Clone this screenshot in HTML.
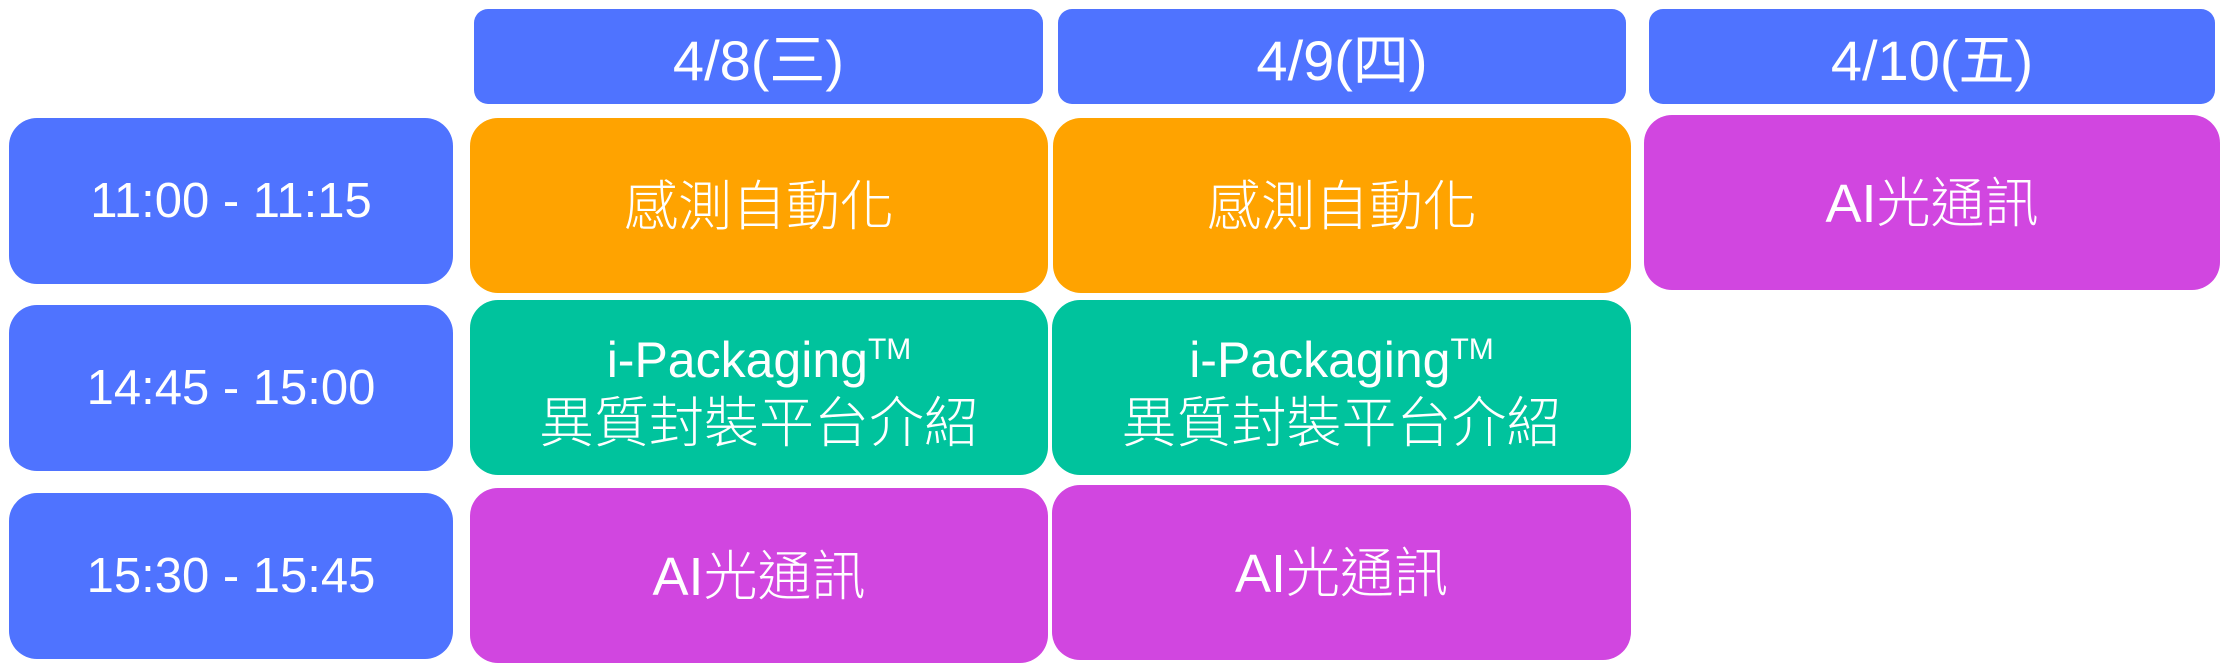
<!DOCTYPE html>
<html><head><meta charset="utf-8"><style>
html,body{margin:0;padding:0;background:#fff;width:2226px;height:668px;overflow:hidden}
.b{position:absolute;display:flex;align-items:center;justify-content:center;flex-direction:column;color:#fff;font-family:"Liberation Sans","Noto Sans CJK TC",sans-serif;text-align:center;border-radius:28px;box-sizing:border-box}
.h{background:#4f73ff;border-radius:14px;font-size:56px}
.t{background:#4f73ff;font-size:49px}
.o{background:#ffa300;font-size:54px;font-weight:300;padding-bottom:8px}
.g{background:#00c39d;font-weight:300}
.p{background:#d146e0;font-size:54px;font-weight:300;padding-bottom:8px}
.g .l1{font-size:50px;line-height:60px}
.g .l2{font-size:55px;line-height:66px}
sup{font-size:30px;vertical-align:18px}
</style></head><body>
<div class="b h" style="left:474px;top:9px;width:569px;height:95px">4/8(三)</div>
<div class="b h" style="left:1058px;top:9px;width:568px;height:95px">4/9(四)</div>
<div class="b h" style="left:1649px;top:9px;width:566px;height:95px">4/10(五)</div>

<div class="b t" style="left:9px;top:118px;width:444px;height:166px">11:00 - 11:15</div>
<div class="b t" style="left:9px;top:305px;width:444px;height:166px">14:45 - 15:00</div>
<div class="b t" style="left:9px;top:493px;width:444px;height:166px">15:30 - 15:45</div>

<div class="b o" style="left:470px;top:118px;width:578px;height:175px">感測自動化</div>
<div class="b o" style="left:1053px;top:118px;width:578px;height:175px">感測自動化</div>
<div class="b p" style="left:1644px;top:115px;width:576px;height:175px">AI光通訊</div>

<div class="b g" style="left:470px;top:300px;width:578px;height:175px"><div class="l1">i-Packaging<sup>TM</sup></div><div class="l2">異質封裝平台介紹</div></div>
<div class="b g" style="left:1052px;top:300px;width:579px;height:175px"><div class="l1">i-Packaging<sup>TM</sup></div><div class="l2">異質封裝平台介紹</div></div>

<div class="b p" style="left:470px;top:488px;width:578px;height:175px">AI光通訊</div>
<div class="b p" style="left:1052px;top:485px;width:579px;height:175px">AI光通訊</div>
</body></html>
